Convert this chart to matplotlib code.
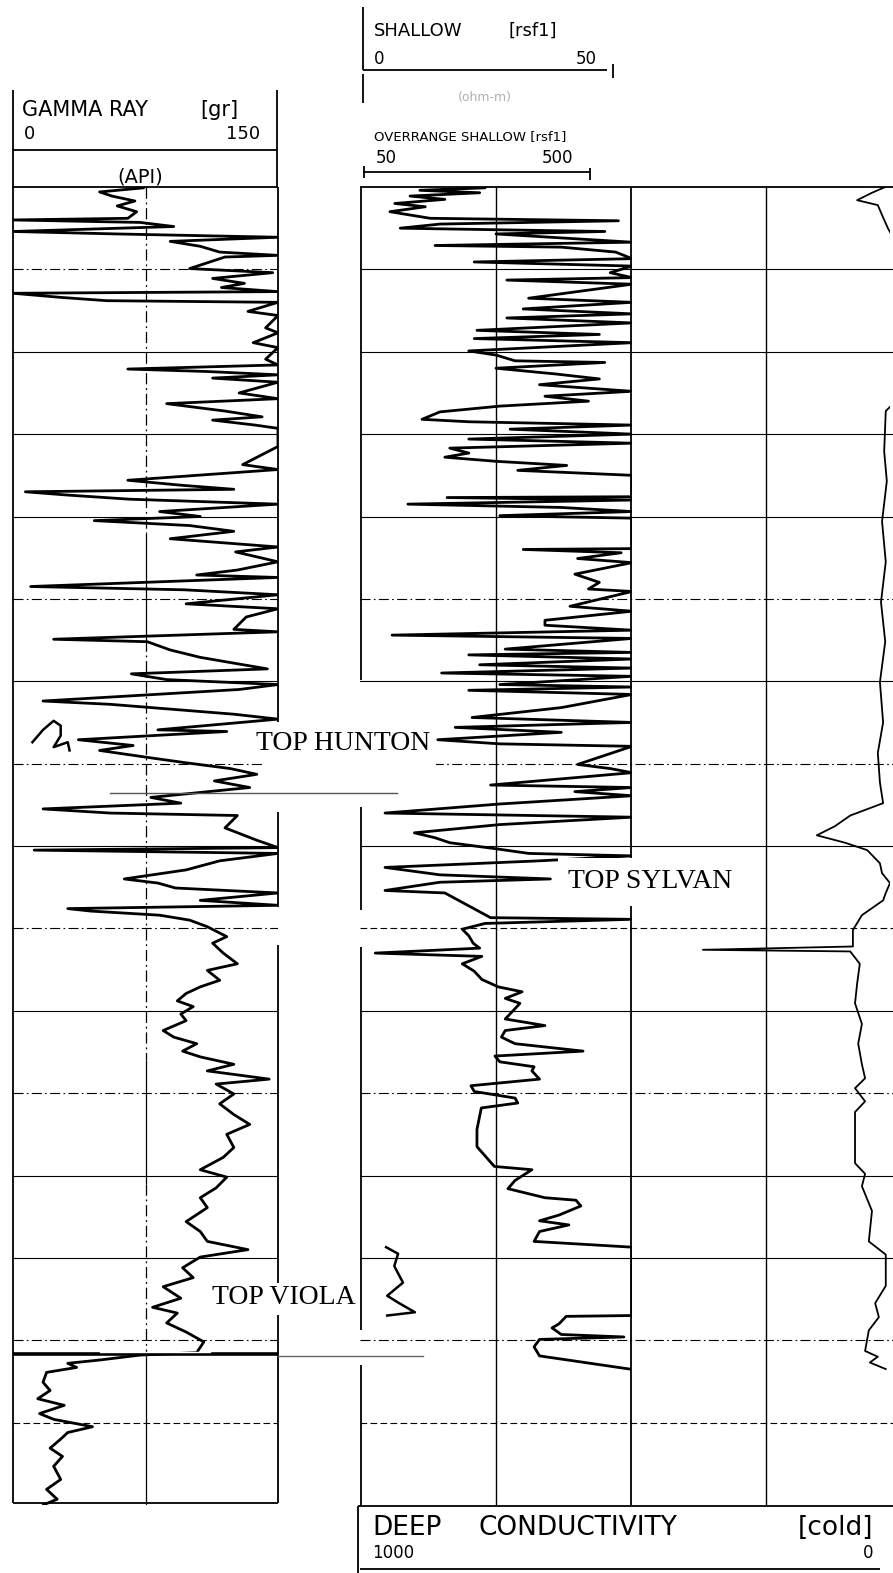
import matplotlib
matplotlib.use("Agg")
import matplotlib.pyplot as plt
from matplotlib.patches import Rectangle

# ---------------- data (read off the scanned log) ----------------
# relative depth (ft, 10 ft per grid division), gamma ray (API, 0-150)
gr_depth = [0.1, 0.6, 1.1, 1.7, 2.3, 3.0, 3.8, 4.0, 4.3, 4.8, 5.0, 5.4, 5.7, 6.1, 6.6, 7.2, 7.9, 8.3, 8.5,
            9.9, 10.4, 11.1, 11.7, 12.2, 12.7, 12.9, 13.4, 13.8, 14.0, 15.1, 15.6, 17.1, 17.7, 18.9, 19.5,
            20.9, 21.6, 22.1, 22.4, 22.8, 23.2, 23.7, 25.0, 25.7, 26.3, 27.2, 27.9, 28.3, 28.9, 29.3, 31.5,
            33.7, 34.3, 35.6, 36.2, 36.7, 37.0, 37.4, 37.9, 38.5, 39.4, 40.0, 40.5, 41.1, 41.8, 42.7, 43.7,
            44.3, 45.5, 46.5, 47.1, 47.4, 48.5, 48.9, 49.5, 50.6, 51.2, 52.2, 53.7, 54.0, 54.9, 55.2, 56.2,
            57.1, 58.5, 59.1, 59.8, 60.4, 61.0, 61.7, 62.4, 62.8, 64.0, 64.6, 65.9, 66.1, 67.1, 67.8, 68.4,
            69.3, 69.9, 70.6, 71.3, 72.1, 72.9, 74.1, 74.8, 75.5, 76.0, 76.3, 77.8, 79.3, 80.2, 80.5, 80.9,
            81.8, 82.9, 83.5, 84.0, 84.5, 85.1, 85.7, 86.6, 87.2, 87.6, 87.9, 88.4, 89.0, 89.8, 91.0, 91.8,
            93.0, 94.3, 95.1, 96.3, 97.1, 97.9, 98.8, 99.5, 100.4, 101.2, 102.4, 103.2, 104.0, 104.9, 105.6,
            106.5, 107.3, 108.3, 108.9, 110.1, 111.3, 112.6, 113.8, 115.0, 116.6, 117.8, 119.3, 120.2, 121.5,
            122.7, 123.9, 125.6, 126.8, 128.0, 129.0, 129.9, 131.2, 132.4, 133.5, 134.9, 136.0, 136.7, 137.9,
            139.0, 140.2, 141.5, 141.8,
            142.4, 142.8, 143.3, 143.9, 145.1, 146.1, 147.1, 147.9, 148.9, 149.6, 150.5, 151.2, 152.0, 153.1,
            154.1, 155.3, 156.9, 158.1, 159.3, 160.0]
gr_value = [74, 49, 56, 69, 59, 70, 65, 0, 72, 91, 61, 0, 59, 150, 89, 106, 117, 150, 120,
            100, 147, 113, 131, 118, 150, 0, 27, 53, 150, 133, 150, 143, 150, 136, 150,
            143, 150, 65, 110, 150, 113, 150, 128, 150, 87, 120, 141, 113, 137, 150, 150,
            130, 150, 65, 95, 125, 7, 31, 66, 150, 83, 106, 46, 100, 125, 89, 150,
            126, 150, 127, 104, 150, 10, 97, 150, 98, 150, 132, 125, 150, 23, 76, 89,
            106, 144, 67, 87, 150, 128, 72, 17, 55, 125, 150, 82, 121, 37, 68, 49,
            78, 98, 123, 138, 114, 134, 78, 95, 17, 55, 127, 120, 138, 150, 12, 150,
            117, 98, 79, 63, 82, 92, 150, 106, 150, 31, 44, 83, 100, 110, 121, 113,
            119, 127, 110, 117, 106, 98, 93, 102, 95, 98, 85, 91, 104, 96, 106,
            125, 110, 145, 115, 125, 117, 125, 134, 121, 125, 119, 106, 121, 115,
            106, 110, 98, 106, 110, 133, 106, 96, 102, 85, 95, 79, 93, 87,
            98, 108, 104, 72,
            49, 31, 36, 19, 17, 21, 14, 29, 15, 23, 45, 31, 27, 21,
            28, 23, 27, 19, 25, 17]

# stray pen mark in the gamma track
gr_mark_depth = [67.4, 65.9, 64.8, 65.4, 66.6, 68.0, 67.4, 68.4]
gr_mark_value = [11, 17, 23, 27, 27, 23, 31, 32]

# shallow resistivity (ohm-m, 0-50)
sh_depth = [0.1, 0.4, 0.7, 1.1, 1.5, 2.0, 2.4, 3.0, 3.8, 4.1, 4.5, 5.0, 5.4, 5.7, 6.7, 7.1, 7.3, 7.9, 8.7,
            9.1, 9.6, 10.4, 11.0, 11.3, 11.8, 13.5, 14.0, 14.8, 15.4, 15.9, 16.5, 17.4, 17.9, 18.4, 18.9,
            19.9, 20.4, 21.1, 21.3, 22.0, 22.7, 23.3, 24.0, 24.8, 25.4, 26.0, 26.6, 27.3, 28.2, 28.5, 28.9,
            29.4, 30.0, 30.6, 31.1, 31.7, 32.3, 32.8, 33.3, 33.8, 34.4, 35.0, 37.6, 37.7, 38.0, 38.5, 38.9,
            39.4, 39.9, 40.2, 43.9, 44.0, 44.4, 45.1, 45.6, 47.0, 48.0, 48.8, 49.1, 50.9, 51.5, 52.6,
            53.2, 53.8, 54.4, 54.8, 56.1, 56.5, 56.8, 57.3, 58.0, 58.4, 59.0, 59.4, 60.4, 60.7, 61.1, 61.6,
            63.2, 64.4, 65.0, 65.6, 66.2, 67.1, 67.6, 67.9, 70.1, 70.6, 71.1, 72.6, 72.9, 73.4, 73.9, 74.9,
            76.0, 76.5, 77.4, 78.4, 79.0, 79.6, 80.4, 80.9, 81.2, 81.8, 82.6, 83.5, 84.0, 84.4, 85.4, 85.7,
            88.7, 88.9, 89.4, 90.1, 90.9, 91.8, 92.4, 93.0, 93.4, 94.3, 95.2, 96.2, 97.1, 97.7, 98.5, 99.1,
            100.1, 101.0, 101.8, 102.4, 103.2, 104.0, 104.9, 105.5, 106.2, 106.8, 107.3, 108.3, 109.1, 109.8,
            110.6, 111.2, 111.8, 114.4, 116.5, 118.9, 119.3, 120.6, 121.6, 122.7, 123.0, 123.7, 124.8, 125.5,
            126.0, 126.8, 128.0, 128.7, 137.0, 137.1, 138.0, 138.5, 139.3, 139.6, 139.9, 140.8, 141.9, 143.5]
sh_value = [23, 11, 22, 9.2, 15.6, 6.4, 12, 5.5, 12.9, 47.5, 14.7, 7.4, 45, 25, 50, 13.8, 37, 47, 50,
            21, 50, 46, 50, 27, 50, 31, 50, 30, 50, 27, 50, 21.5, 44, 21, 50,
            20, 25, 28.5, 45, 25, 36, 44, 33, 50, 34, 42, 25.7, 14.7, 11.4, 20, 50,
            27.6, 50, 20, 50, 16.5, 20, 15.6, 25, 38, 29, 50, 50, 16, 50, 8.8, 37,
            50, 25.7, 50, 50, 30, 48, 40, 50, 39.5, 44, 42, 50, 38.6, 50, 34,
            34, 50, 5.9, 50, 26.7, 50, 20, 50, 22, 50, 15, 50, 25.7, 50, 20, 50,
            37, 20.6, 50, 17.5, 37, 14.3, 25.7, 50, 40, 46, 50, 24, 50, 39.5, 50, 25.7,
            4.6, 50, 25.7, 10, 13.8, 16.5, 25.7, 31, 50, 33, 4.6, 14.7, 35, 14.7, 4.6, 15.6,
            24, 50, 23, 18.8, 20, 20.8, 22, 2.8, 22.4, 18.8, 21, 22.4, 25.4, 29.8, 26.7, 29.4,
            28, 26.7, 34, 26.7, 26, 28.5, 41, 24.8, 25.7, 32, 31.6, 33, 20.4, 21,
            28.5, 29, 22.3, 21.5, 21.5, 24.7, 31.6, 28.5, 27.2, 34, 39.7, 40.6, 36.6, 33,
            38.4, 33, 32, 50, 50, 37.9, 36.6, 35.3, 37, 48.5, 33, 32, 33, 49.6]

# short stray trace in the shallow track (Viola)
sh_mark_depth = [128.7, 129.5, 131.0, 133.0, 134.6, 135.5, 136.6, 137.0]
sh_mark_value = [4.8, 7.0, 6.3, 7.9, 5.0, 7.2, 10.1, 5.0]

# deep conductivity (mmho/m, 1000-0, reversed)
cd_depth = [0.0, 0.7, 1.6, 2.2, 3.4, 5.0, 6.5, 26.0, 27.2, 32.1, 35.7, 40.6, 45.5, 50.4, 55.2, 60.1, 65.0,
            68.7, 72.3, 74.8, 76.3, 77.6, 78.7, 79.6, 80.5, 82.1, 83.3, 84.5, 85.7, 86.6, 88.4, 90.2, 92.2,
            92.6, 92.8, 94.3, 96.7, 99.1, 101.6, 104.0, 106.5, 108.2, 109.4, 111.0, 112.3, 118.5, 119.8,
            121.3, 124.3, 128.0, 129.6, 133.4, 135.5, 137.2, 138.8, 141.3, 142.0, 142.7, 143.5]
cd_value = [9, 34, 62, 23, 15, 4, -9, -11, 8, 11, 6, 15, 8, 17, 9, 19, 13,
            23, 19, 13, 75, 104, 138, 85, 43, 19, 15, 0, 8, 13, 53, 70, 70,
            353, 75, 57, 62, 66, 53, 60, 53, 47, 66, 47, 66, 66, 47,
            53, 34, 40, 8, 8, 28, 21, 40, 47, 23, 38, 8]

grid_depths = [10, 20, 30, 40, 50, 60, 70, 80, 90, 100, 110, 120, 130, 140, 150]
tops = ["TOP HUNTON", "TOP SYLVAN", "TOP VIOLA"]

# ---------------- styles / layout ----------------
DD = (0, (9, 3, 1.5, 3))
gr_grid_styles = [DD, '-', '-', '-', DD, '-', DD, '-', DD, '-', DD, '-', '-', DD, (0, (6, 3))]
rt_grid_styles = ['-', '-', '-', '-', DD, '-', DD, '-', (0, (6, 3)), '-', DD, '-', '-', DD, (0, (6, 3))]

W, H = 893, 1573
fig = plt.figure(figsize=(W / 100, H / 100), dpi=100)
fig.patch.set_facecolor('white')

TOP_PX, BOT_PX = 187, 1505


def px_axes(x0, y0, x1, y1, z=1):
    ax = fig.add_axes([x0 / W, 1 - y1 / H, (x1 - x0) / W, (y1 - y0) / H], zorder=z)
    ax.axis('off')
    return ax


CURVE = dict(color='black', lw=2.0, solid_joinstyle='round', solid_capstyle='round')
GRID = dict(color='black', lw=0.8)

# gamma track
ax_gr = px_axes(13, TOP_PX, 278, BOT_PX, 1)
ax_gr.set_xlim(0, 150)
ax_gr.set_ylim(160, 0)
for d, ls in zip(grid_depths, gr_grid_styles):
    ax_gr.axhline(d, linestyle=ls, **GRID)
for (d0, d1), ls in zip([(0, 42), (42, 55), (55, 106), (106, 121), (121, 142), (142, 160)],
                        [DD, '-', DD, '-', DD, '-']):
    ax_gr.vlines(75, d0, d1, linestyles=[ls], colors='black', lw=0.9)
ax_gr.plot(gr_value, gr_depth, **CURVE)
ax_gr.plot(gr_mark_value, gr_mark_depth, color='black', lw=1.8)

# right track grid
ax_rg = px_axes(360, TOP_PX, 902, BOT_PX, 1)
ax_rg.set_xlim(0, 4)
ax_rg.set_ylim(160, 0)
for d, ls in zip(grid_depths, rt_grid_styles):
    ax_rg.axhline(d, linestyle=ls, **GRID)
ax_rg.vlines([1, 3], 0, 160, colors='black', lw=1.0)
ax_rg.vlines(2, 0, 81.5, colors='black', lw=1.3)
ax_rg.vlines(2, 87.3, 160, colors='black', lw=1.3)

# shallow resistivity
ax_sh = px_axes(360, TOP_PX, 632, BOT_PX, 2)
ax_sh.set_xlim(0, 50)
ax_sh.set_ylim(160, 0)
ax_sh.plot(sh_value, sh_depth, **CURVE)
ax_sh.plot(sh_mark_value, sh_mark_depth, color='black', lw=1.8)

# deep conductivity
ax_cd = px_axes(360, TOP_PX, 890, BOT_PX, 2)
ax_cd.set_xlim(1000, 0)
ax_cd.set_ylim(160, 0)
ax_cd.plot(cd_value, cd_depth, color='black', lw=1.3)

# ---------------- overlay: frames, headers, labels ----------------
ov = px_axes(0, 0, W, H, 10)
ov.set_xlim(0, W)
ov.set_ylim(H, 0)
L = dict(color='black', lw=1.3, solid_capstyle='butt')

# white cut-and-paste bands behind the formation labels
for (x0, y0, x1, y1) in [(262, 722, 436, 790), (558, 858, 746, 905), (205, 1283, 358, 1315)]:
    ov.add_patch(Rectangle((x0, y0), x1 - x0, y1 - y0, facecolor='white', edgecolor='none', zorder=1))

# track frames
ov.plot([13, 13], [TOP_PX, 1503], **L)
for y0, y1 in [(TOP_PX, 722), (812, 907), (945, 1283), (1315, 1503)]:
    ov.plot([278, 278], [y0, y1], **L)
ov.plot([13, 278], [TOP_PX, TOP_PX], **L)
ov.plot([13, 278], [1503, 1503], **L)
for y0, y1 in [(TOP_PX, 680), (807, 910), (947, 1330), (1365, 1506)]:
    ov.plot([361, 361], [y0, y1], **L)
ov.plot([360, 893], [TOP_PX, TOP_PX], **L)
ov.plot([358, 893], [1506, 1506], **L)

# break lines at formation tops
ov.plot([110, 397], [793, 793], color='#555555', lw=1.0)
ov.plot([13, 278], [1354, 1354], color='black', lw=2.6, solid_capstyle='butt', zorder=3)
ov.plot([100, 210], [1352, 1352], color='white', lw=1.0, zorder=4)
ov.plot([278, 423], [1356, 1356], color='#666666', lw=1.0)

# gamma header
ov.plot([13, 13], [90, 188], **L)
ov.plot([277, 277], [90, 188], **L)
ov.plot([13, 277], [150, 150], **L)
HF = dict(family='DejaVu Sans', color='black', va='center')
ov.text(22, 110, "GAMMA RAY", fontsize=15, **HF)
ov.text(200, 110, "[gr]", fontsize=15, **HF)
ov.text(24, 134, "0", fontsize=13, **HF)
ov.text(260, 134, "150", fontsize=13, ha='right', **HF)
ov.text(140, 177, "(API)", fontsize=14, ha='center', **HF)

# shallow header
ov.plot([363, 363], [7, 70], **L)
ov.plot([363, 363], [74, 103], **L)
ov.plot([363, 607], [70, 70], **L)
ov.plot([613, 613], [64, 78], **L)
ov.text(374, 31, "SHALLOW", fontsize=13, **HF)
ov.text(508, 31, "[rsf1]", fontsize=13, **HF)
ov.text(374, 59, "0", fontsize=12, **HF)
ov.text(597, 59, "50", fontsize=12, ha='right', **HF)
ov.text(485, 97, "(ohm-m)", fontsize=9, ha='center', color='#b0b0b0', family='DejaVu Sans', va='center')
ov.text(374, 137, "OVERRANGE SHALLOW [rsf1]", fontsize=9.5, **HF)
ov.text(376, 158, "50", fontsize=12, **HF)
ov.text(573, 158, "500", fontsize=12, ha='right', **HF)
ov.plot([363, 590], [172, 172], **L)
ov.plot([364, 364], [166, 178], **L)
ov.plot([590, 590], [168, 180], **L)

# deep conductivity footer
ov.plot([358, 358], [1506, 1573], **L)
ov.plot([360, 880], [1569, 1569], **L)
ov.text(372, 1528, "DEEP", fontsize=19, **HF)
ov.text(478, 1528, "CONDUCTIVITY", fontsize=19, **HF)
ov.text(873, 1528, "[cold]", fontsize=19, ha='right', **HF)
ov.text(372, 1553, "1000", fontsize=12, **HF)
ov.text(873, 1553, "0", fontsize=12, ha='right', **HF)

# formation labels
SF = dict(family='Liberation Serif', fontsize=20, color='black', va='center', zorder=5)
ov.text(256, 743, tops[0], **SF)
ov.text(568, 881, tops[1], **SF)
ov.text(212, 1297, tops[2], **SF)

fig.savefig("out.png", dpi=100, facecolor='white')
